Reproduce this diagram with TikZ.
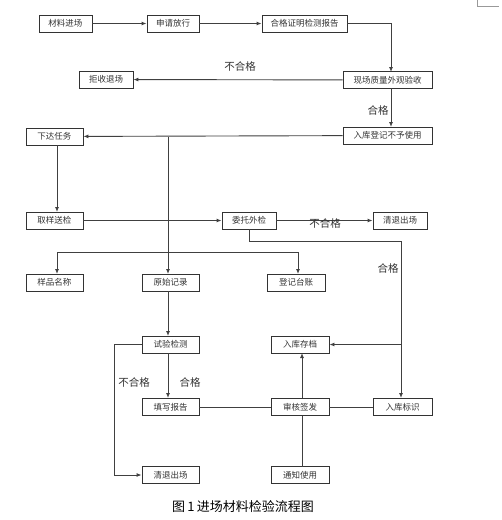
\documentclass[tikz,border=0pt]{standalone}
\usepackage{fontspec}
\setmainfont{Noto Sans CJK SC}
\usetikzlibrary{arrows.meta}
\tikzset{
  box/.style={draw=black!80, line width=0.9pt, rectangle, inner sep=0pt, minimum height=17pt,
    font=\fontsize{8.5}{10}\selectfont, text=black!80},
  conn/.style={draw=black!75, line width=0.9pt},
  arr/.style={conn, -{Latex[length=5pt,width=4pt]}},
  lbl/.style={font=\fontsize{10.5}{12}\selectfont, text=black!80, inner sep=0pt},
}
\begin{document}
\begin{tikzpicture}[x=1pt,y=-1pt]
\useasboundingbox[fill=white] (0,0) rectangle (502,520);
% boxes
\node[box, minimum width=53pt] (cl) at (65.5,23.5) {材料进场};
\node[box, minimum width=52pt] (sq) at (173,23.5) {申请放行};
\node[box, minimum width=85pt] (hg) at (304.5,23.5) {合格证明检测报告};
\node[box, minimum width=89pt] (xc) at (387.5,80) {现场质量外观验收};
\node[box, minimum width=54pt] (jj) at (106,79.5) {拒收退场};
\node[box, minimum width=89pt] (rk) at (387.5,135.5) {入库登记不予使用};
\node[box, minimum width=57pt] (xd) at (54.5,136.5) {下达任务};
\node[box, minimum width=57pt] (qy) at (54.5,220.5) {取样送检};
\node[box, minimum width=54pt] (wt) at (249,220.5) {委托外检};
\node[box, minimum width=54pt] (qt1) at (400,220.5) {清退出场};
\node[box, minimum width=57pt] (yp) at (54.5,282.5) {样品名称};
\node[box, minimum width=57pt] (ys) at (170.5,282.5) {原始记录};
\node[box, minimum width=58pt] (dj) at (296,282.5) {登记台账};
\node[box, minimum width=57pt] (sy) at (170.5,344.5) {试验检测};
\node[box, minimum width=58pt] (rc) at (300,344.5) {入库存档};
\node[box, minimum width=57pt] (tx) at (170.5,407) {填写报告};
\node[box, minimum width=58pt] (sh) at (300,407) {审核签发};
\node[box, minimum width=59pt] (rb) at (402.5,407) {入库标识};
\node[box, minimum width=57pt] (qt2) at (170.5,475) {清退出场};
\node[box, minimum width=58pt] (tz) at (300,475) {通知使用};
% helper coordinates
\coordinate (b1) at (168,136.5);
\coordinate (b2) at (168,252);
\coordinate (w1) at (249,241);
\coordinate (w2) at (401,241);
\coordinate (w3) at (401,344.5);
\coordinate (s1) at (114,344.5);
\coordinate (s2) at (114,475);
% connectors
\draw[arr] (cl) -- (sq);
\draw[arr] (sq) -- (hg);
\draw[arr] (hg.east) -- (391,23.5) -- (391,72);
\draw[arr] (xc) -- (jj);
\draw[arr] (391,88) -- (391,127);
\draw[arr] (rk) -- (xd);
\draw[arr] (b1) -- (168,274);
\draw[arr] (57,145) -- (57,212);
\draw[arr] (qy) -- (wt);
\draw[arr] (wt) -- (qt1);
\draw[conn] (wt.south -| w1) -- (w1) -- (w2);
\draw[arr] (w2) -- (401,398);
\draw[arr] (w3) -- (rc.east);
\draw[arr] (b2) -| (57,274);
\draw[arr] (b2) -| (298,274);
\draw[arr] (168,291) -- (168,336);
\draw[arr] (168,353) -- (168,398);
\draw[conn] (sy.west) -- (s1) -- (s2);
\draw[arr] (s2) -- (qt2.west);
\draw[conn] (tx) -- (sh);
\draw[conn] (sh) -- (rb);
\draw[arr] (302,398) -- (302,353);
\draw[conn] (302,416) -- (302,467);
% labels
\node[lbl] (l1) at (240,66) {不合格};
\node[lbl] (l2) at (378,110) {合格};
\node[lbl] (l3) at (325,223) {不合格};
\node[lbl] (l4) at (388,268) {合格};
\node[lbl] (l5) at (134,382) {不合格};
\node[lbl] (l6) at (190,382) {合格};
% caption
\node[font=\fontsize{13}{15}\selectfont, inner sep=0pt] (cap) at (243,507) {图\,1\,进场材料检验流程图};
% top-right corner artifact
\draw[black!40, line width=0.5pt] (477,0) -- (477,6) -- (499,6);
\end{tikzpicture}
\end{document}
